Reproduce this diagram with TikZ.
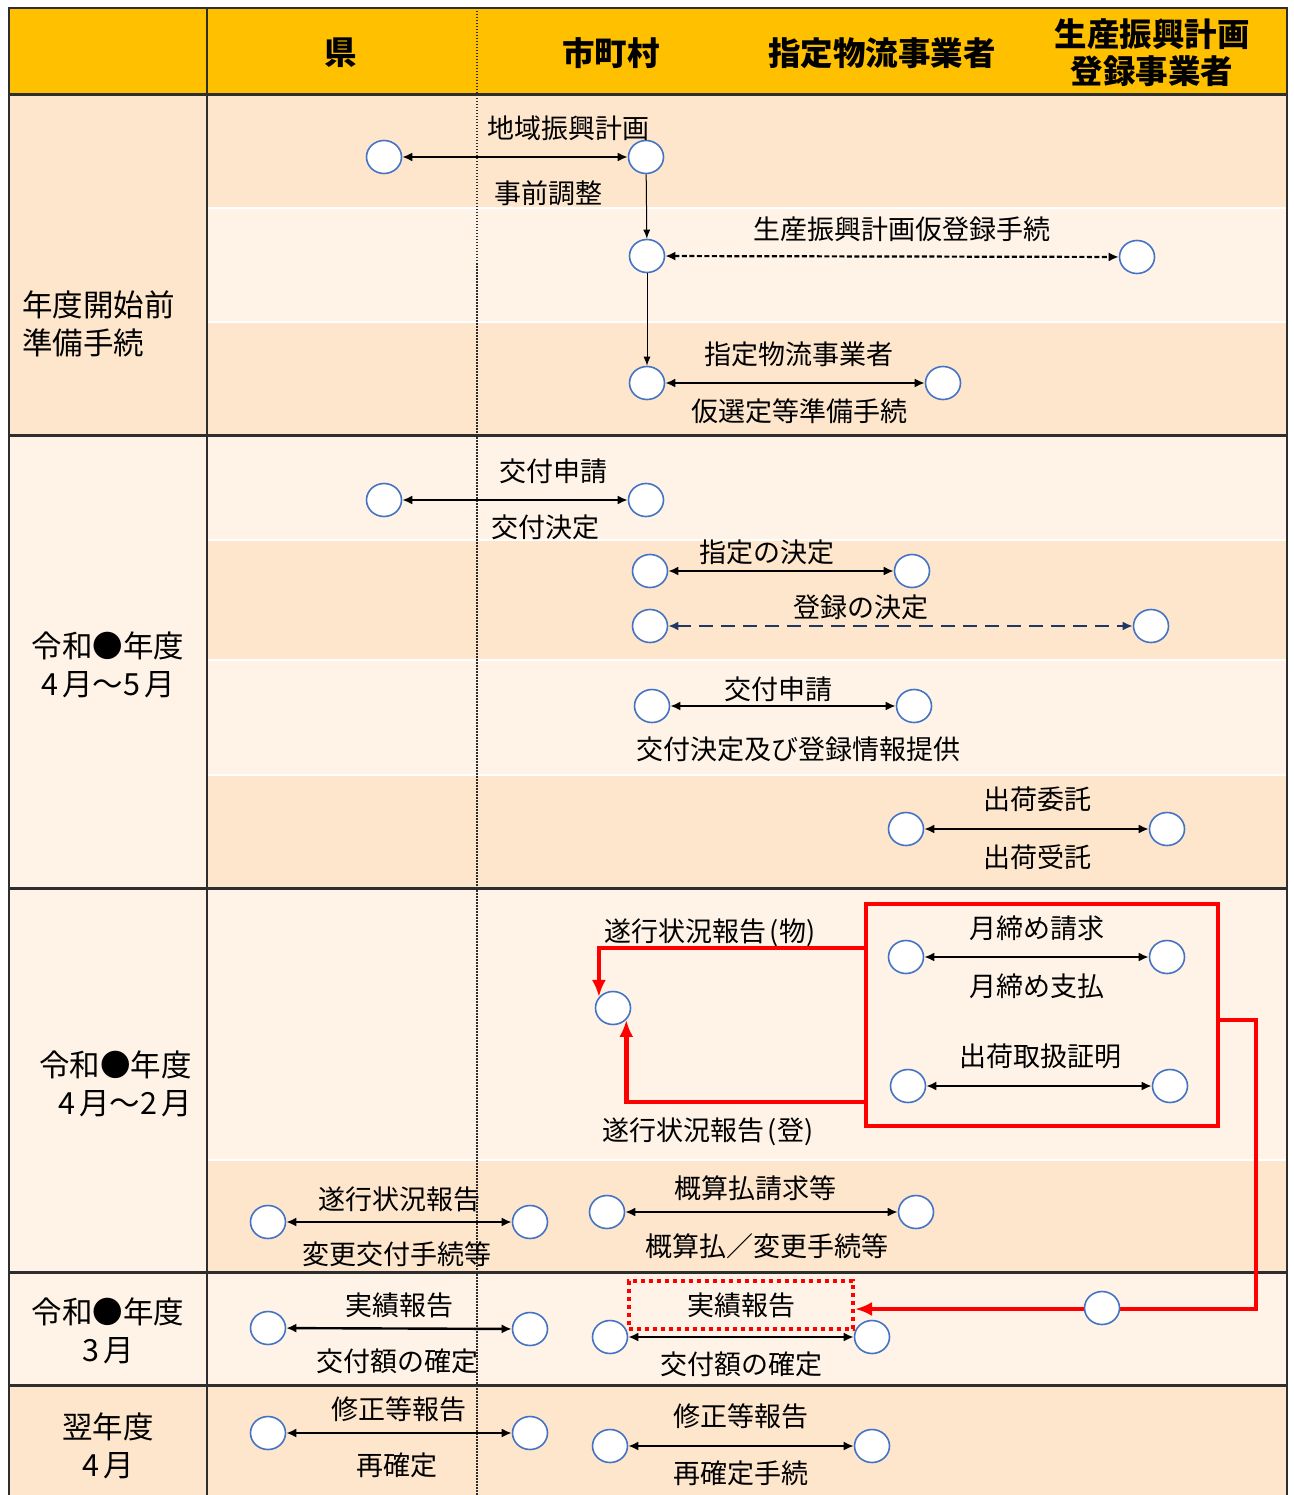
\documentclass[tikz,border=0pt]{standalone}
\usepackage{fontspec}
\setmainfont{Noto Sans CJK JP}
\usetikzlibrary{arrows.meta,shapes.geometric}
\definecolor{headgold}{HTML}{FFC000}
\definecolor{peachdark}{HTML}{FDE6CC}
\definecolor{peachlight}{HTML}{FEF3E6}
\definecolor{gridline}{HTML}{2E2E2E}
\definecolor{circblue}{HTML}{4472C4}
\definecolor{navyline}{HTML}{1F3864}
\definecolor{flowred}{HTML}{FF0000}
\def\xl{9}
\def\xm{207}
\def\xr{1287}
\def\dg{\kern4pt}

\begin{document}
\begin{tikzpicture}[x=1pt,y=-1pt,
    station/.style={ellipse, draw=circblue, fill=white, line width=1.6pt, minimum width=35pt, minimum height=33pt, inner sep=0pt},
    lbl/.style={font=\fontsize{27}{32}\selectfont, inner sep=0pt},
    head/.style={font=\bfseries\fontsize{32.5}{37}\selectfont, align=center, inner sep=0pt},
    side/.style={font=\fontsize{30.5}{38}\selectfont, align=center, inner sep=0pt},
    biarrow/.style={{Latex[length=10pt,width=9pt]}-{Latex[length=10pt,width=9pt]}, line width=2.4pt},
    dasharrow/.style={biarrow, line width=2.2pt, dash pattern=on 5pt off 2.5pt},
    navyarrow/.style={{Latex[length=10pt,width=9pt]}-{Latex[length=10pt,width=9pt]}, draw=navyline, line width=2.6pt, dash pattern=on 14pt off 8pt},
    downarrow/.style={-{Latex[length=9pt,width=7pt]}, line width=1pt},
    redarrow/.style={-{Latex[length=17pt,width=14pt]}, draw=flowred, line width=4.5pt},
    rowsep/.style={white, line width=2pt},
    groupsep/.style={gridline, line width=3pt}]
\useasboundingbox (0,0) rectangle (1293,1495);

\fill[headgold] (\xl,8) rectangle (\xr,95);
\fill[peachdark] (\xl,95) rectangle (\xm,435);
\fill[peachlight] (\xl,435) rectangle (\xm,1385);
\fill[peachdark] (\xl,1385) rectangle (\xm,1495);
\fill[peachdark] (\xm,95) rectangle (\xr,208);
\fill[peachlight] (\xm,208) rectangle (\xr,322);
\fill[peachdark] (\xm,322) rectangle (\xr,435);
\fill[peachlight] (\xm,435) rectangle (\xr,540);
\fill[peachdark] (\xm,540) rectangle (\xr,660);
\fill[peachlight] (\xm,660) rectangle (\xr,775);
\fill[peachdark] (\xm,775) rectangle (\xr,888);
\fill[peachlight] (\xm,888) rectangle (\xr,1160);
\fill[peachdark] (\xm,1160) rectangle (\xr,1272);
\fill[peachlight] (\xm,1272) rectangle (\xr,1385);
\fill[peachdark] (\xm,1385) rectangle (\xr,1495);

\foreach \y in {208,322,540,660,775,1160}
    \draw[rowsep] (\xm,\y) -- (\xr,\y);
\foreach \y in {95,435,888,1272,1385}
    \draw[groupsep] (\xl,\y) -- (\xr,\y);
\draw[gridline, line width=2.2pt] (\xl,1495) -- (\xl,8) -- (\xr,8) -- (\xr,1495);
\draw[gridline, line width=2pt] (\xm,8) -- (\xm,1495);
\draw[gridline, line width=1.3pt, dash pattern=on 1.5pt off 1.5pt] (477,8) -- (477,1495);

\node[head] (hken) at (341,53) {県};
\node[head] (hshi) at (611,53) {市町村};
\node[head] (hbut) at (882,53) {指定物流事業者};
\node[head] (htou) at (1152,53) {生産振興計画\\登録事業者};

\node[side, align=left, anchor=west] (g1) at (22,324) {年度開始前\\準備手続};
\node[side] (g2) at (108,665) {令和●年度\\4\dg 月～5\dg 月};
\node[side, align=right, anchor=east] (g3) at (192,1084) {令和●年度\\4\dg 月～2\dg 月};
\node[side] (g4) at (108,1331) {令和●年度\\3\dg 月};
\node[side] (g5) at (108,1446) {翌年度\\4\dg 月};

\node[station] (ken1) at (384,157) {};
\node[station] (shi1) at (646,157) {};
\node[station] (shi2) at (647,256) {};
\node[station] (tou2) at (1137,257) {};
\node[station] (shi3) at (647,383) {};
\node[station] (but3) at (943,383) {};
\node[station] (ken4) at (384,500) {};
\node[station] (shi4) at (646,500) {};
\node[station] (shi5) at (650,571) {};
\node[station] (but5) at (912,571) {};
\node[station] (shi6) at (650,626) {};
\node[station] (tou6) at (1151,626) {};
\node[station] (shi7) at (652,706) {};
\node[station] (but7) at (914,706) {};
\node[station] (but8) at (906,829) {};
\node[station] (tou8) at (1167,829) {};
\node[station] (but9) at (906,957) {};
\node[station] (tou9) at (1167,957) {};
\node[station] (but10) at (908,1086) {};
\node[station] (tou10) at (1170,1086) {};
\node[station] (shi11) at (613,1008) {};
\node[station] (ken12) at (268,1222) {};
\node[station] (shi12) at (530,1222) {};
\node[station] (shi13) at (607,1212) {};
\node[station] (but13) at (916,1212) {};
\node[station] (ken14) at (268,1328) {};
\node[station] (shi14) at (530,1329) {};
\node[station] (shi15) at (610,1337) {};
\node[station] (but15) at (872,1337) {};
\node[station] (ken16) at (268,1433) {};
\node[station] (shi16) at (530,1433) {};
\node[station] (shi17) at (610,1446) {};
\node[station] (but17) at (872,1446) {};

\node[lbl] at (568,128) {地域振興計画};
\node[lbl] at (548,193) {事前調整};
\node[lbl] at (902,229) {生産振興計画仮登録手続};
\node[lbl] at (799,354) {指定物流事業者};
\node[lbl] at (799,411) {仮選定等準備手続};
\node[lbl] at (553,471) {交付申請};
\node[lbl] at (545,527) {交付決定};
\node[lbl] at (767,552) {指定の決定};
\node[lbl] at (861,607) {登録の決定};
\node[lbl] at (778,689) {交付申請};
\node[lbl] at (798,749) {交付決定及び登録情報提供};
\node[lbl] at (1037,799) {出荷委託};
\node[lbl] at (1037,857) {出荷受託};
\node[lbl] at (710,933) {遂行状況報告\kern3pt(物)};
\node[lbl] at (1037,928) {月締め請求};
\node[lbl] at (1037,986) {月締め支払};
\node[lbl] at (1040,1056) {出荷取扱証明};
\node[lbl] at (708,1132) {遂行状況報告\kern3pt(登)};
\node[lbl] at (399,1199) {遂行状況報告};
\node[lbl] at (397,1254) {変更交付手続等};
\node[lbl] at (755,1188) {概算払請求等};
\node[lbl] at (767,1246) {概算払／変更手続等};
\node[lbl] at (399,1305) {実績報告};
\node[lbl] at (397,1361) {交付額の確定};
\node[lbl] at (741,1364) {交付額の確定};
\node[lbl] at (399,1409) {修正等報告};
\node[lbl] at (397,1465) {再確定};
\node[lbl] at (741,1416) {修正等報告};
\node[lbl] at (741,1473) {再確定手続};

\node[draw=flowred, line width=4.5pt, minimum width=352pt, minimum height=222pt] (redbox) at (1042,1015) {};
\node[lbl, draw=flowred, line width=4pt, dash pattern=on 4pt off 4pt, minimum width=224pt, minimum height=48pt] (jisseki) at (741,1305) {実績報告};

\draw[biarrow] (ken1) -- (shi1);
\draw[downarrow] (shi1) -- (shi2);
\draw[downarrow] (shi2) -- (shi3);
\draw[dasharrow] (shi2) -- (tou2);
\draw[biarrow] (shi3) -- (but3);
\draw[biarrow] (ken4) -- (shi4);
\draw[biarrow] (shi5) -- (but5);
\draw[navyarrow] (shi6) -- (tou6);
\draw[biarrow] (shi7) -- (but7);
\draw[biarrow] (but8) -- (tou8);
\draw[biarrow] (but9) -- (tou9);
\draw[biarrow] (but10) -- (tou10);
\draw[biarrow] (ken12) -- (shi12);
\draw[biarrow] (shi13) -- (but13);
\draw[biarrow] (ken14) -- (shi14);
\draw[biarrow] (shi15) -- (but15);
\draw[biarrow] (ken16) -- (shi16);
\draw[biarrow] (shi17) -- (but17);

\coordinate (rb1) at (866,948);
\coordinate (rb2) at (866,1102);
\coordinate (rb3) at (1218,1020);
\coordinate (rturn) at (1256,1309);
\draw[redarrow] (rb1) -| (shi11.142);
\draw[redarrow] (rb2) -| (shi11.-42);
\draw[redarrow] (rb3) -| (rturn) -- (jisseki.east |- rturn);
\node[station] (tou18) at (1102,1308) {};
\end{tikzpicture}
\end{document}
